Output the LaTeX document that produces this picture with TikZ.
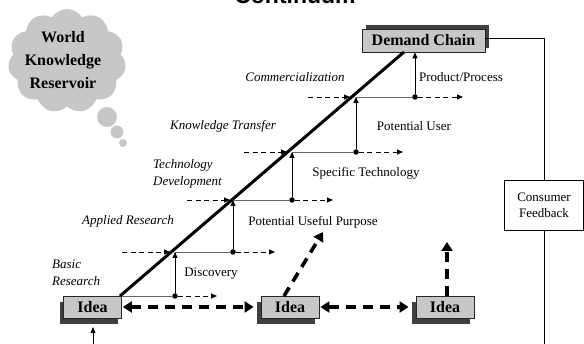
\documentclass[tikz,border=0pt]{standalone}
\usepackage{fontspec}
\setmainfont{Liberation Serif}
\newfontfamily\titlefont{Liberation Sans}
\usetikzlibrary{arrows.meta,shapes.symbols,shadows,calc}

\begin{document}
\begin{tikzpicture}[x=1pt,y=-1pt,
  box/.style={draw=black!85, line width=0.8pt, fill=black!22, inner sep=0pt,
    font=\fontsize{16}{18}\selectfont\bfseries},
  ideabox/.style={box, minimum width=58pt, minimum height=22pt,
    drop shadow={shadow xshift=-4pt, shadow yshift=-6pt, fill=black!75, opacity=1}},
  chainbox/.style={box, minimum width=123pt, minimum height=23pt,
    drop shadow={shadow xshift=4pt, shadow yshift=4pt, fill=black!75, opacity=1}},
  stage/.style={font=\fontsize{13}{17}\selectfont\itshape, inner sep=0pt},
  outcome/.style={font=\fontsize{13}{17}\selectfont, inner sep=0pt},
  tip/.style={-{Triangle[length=6pt,width=5pt]}},
  feed/.style={dashed, dash pattern=on 5pt off 3.5pt, line width=0.8pt, tip},
  level/.style={draw=black!60, line width=0.9pt},
  rise/.style={line width=0.8pt, tip},
  bigdash/.style={line width=3.6pt, dash pattern=on 10pt off 7pt},
  bigtip/.tip={Triangle[length=9pt,width=11pt]},
  dot/.style={circle, fill=black, inner sep=0pt, minimum size=5.5pt},
  puff/.style={fill=black!22}
]
\useasboundingbox (0,0) rectangle (584,344);
\clip (0,0) rectangle (584,344);

% title, mostly above the page edge
\node[anchor=base, inner sep=0pt, font=\titlefont\bfseries\fontsize{23}{23}\selectfont] (title) at (295,4) {Continuum};

% knowledge cloud with its thought bubbles
\node[cloud, cloud puffs=11, cloud puff arc=115, aspect=1.1, fill=black!22,
      minimum width=118pt, minimum height=104pt] (cloud) at (67,61) {};
\node[align=center, inner sep=0pt, font=\fontsize{16}{23}\selectfont\bfseries] (cloudtext) at (63,60)
  {World\\Knowledge\\Reservoir};
\fill[puff] (107,117) circle (10);
\fill[puff] (117,132) circle (6.5);
\fill[puff] (123,143) circle (4);

% boxes
\node[ideabox] (idea1) at (92.5,307) {Idea};
\node[ideabox] (idea2) at (290,307) {Idea};
\node[ideabox] (idea3) at (445,307) {Idea};
\node[chainbox] (demand) at (423.5,40.5) {Demand Chain};
\node[draw, line width=0.7pt, fill=white, minimum width=79pt, minimum height=50pt, align=center,
      font=\fontsize{13}{16}\selectfont] (consumer) at (544,205) {Consumer\\Feedback};

% diagonal from the first idea to the demand chain
\coordinate (dstart) at (120,296);
\coordinate (dend) at (404,52);
\draw[line width=3pt] (dstart) -- (dend);

% stage levels: y, incoming dashed start, diagonal x, level start, dot x, outgoing end
\foreach \i/\y/\fin/\xd/\xs/\xp/\fout in {
    1/252/122/170/175/233/275,
    2/200/187/230/233/292/333,
    3/152/244/287/292/356/403,
    4/97/308/350/356/415/463} {
  \coordinate (in\i) at (\fin,\y);
  \coordinate (on\i) at (\xd,\y);
  \coordinate (l\i) at (\xs,\y);
  \node[dot] (p\i) at (\xp,\y) {};
  \coordinate (out\i) at (\fout,\y);
  \draw[feed] (in\i) -- (on\i);
  \draw[level] (l\i) -- (p\i);
  \draw[feed] (p\i) -- (out\i);
}
% ground level on top of the first idea
\coordinate (l0) at (122,296);
\node[dot] (p0) at (175,296) {};
\coordinate (out0) at (217,296);
\draw[level] (l0) -- (p0);
\draw[feed] (p0) -- (out0);

% rising arrows from each dot to the next level
\draw[rise] (p0) -- (l1);
\draw[rise] (p1) -- (l2);
\draw[rise] (p2) -- (l3);
\draw[rise] (p3) -- (l4);
\draw[rise] (p4) -- (p4 |- demand.south);

% stage names
\node[stage] (comm) at (295,77) {Commercialization};
\node[stage] (ktrans) at (223,126) {Knowledge Transfer};
\node[stage, anchor=west, align=left] (techdev) at (153,174) {Technology\\Development};
\node[stage] (applied) at (128,221) {Applied Research};
\node[stage, anchor=west, align=left] (basic) at (52,273) {Basic\\Research};

% outcomes
\node[outcome] (prod) at (461,77) {Product/Process};
\node[outcome] (user) at (414,126) {Potential User};
\node[outcome] (spec) at (366,173) {Specific Technology};
\node[outcome] (useful) at (313,222) {Potential Useful Purpose};
\node[outcome] (disc) at (211,274) {Discovery};

% links between ideas
\draw[bigdash, {bigtip}-{bigtip}, shorten <=1pt, shorten >=7pt] (idea1.east) -- (idea2.west);
\draw[bigdash, {bigtip}-{bigtip}, shorten <=1pt, shorten >=7pt] (idea2.east) -- (idea3.west);
\coordinate (i2top) at (284,296);
\coordinate (usefulpt) at (323,232);
\draw[bigdash, -{bigtip}] (i2top) -- (usefulpt);
\coordinate (i3top) at (447,296);
\coordinate (i3up) at (447,242);
\draw[bigdash, -{bigtip}] (i3top) -- (i3up);

% consumer feedback loop
\coordinate (fbtop) at (544,38);
\coordinate (fbin) at (93,327);
\draw[line width=0.7pt] (demand.east |- fbtop) -- (fbtop) -- (consumer.north);
\draw[line width=0.8pt, tip] (consumer.south) -- (544,360) -- (93,360) -- (fbin);
\end{tikzpicture}
\end{document}
